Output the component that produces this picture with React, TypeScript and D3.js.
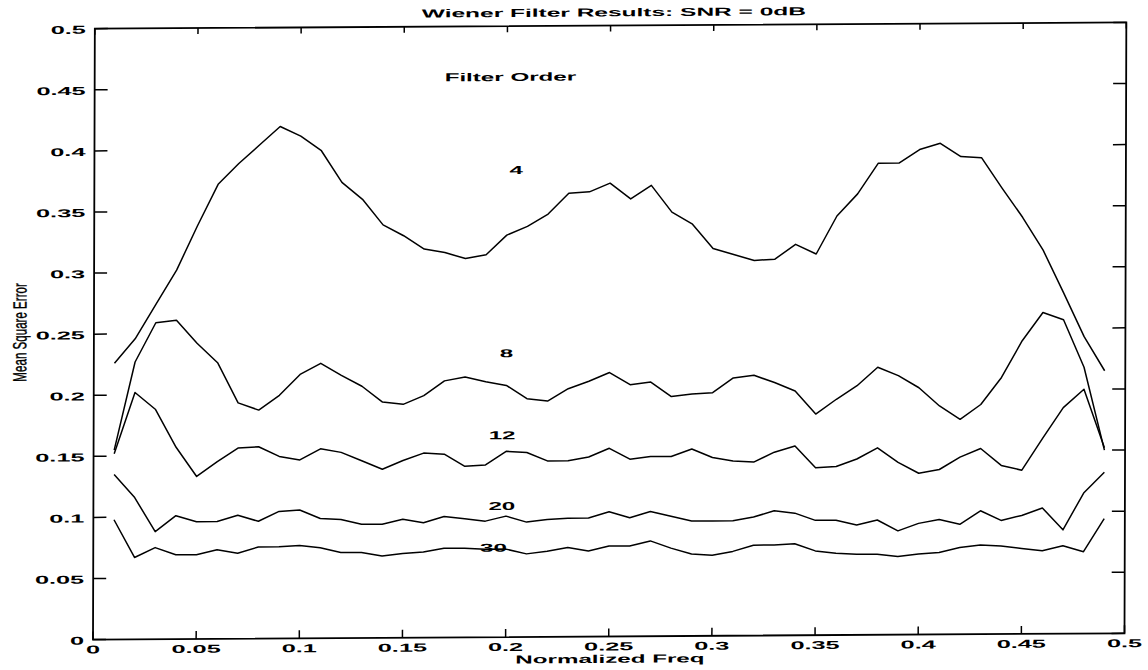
import React from "react";
import * as d3 from "d3";

// normalized frequency grid
const freq = [
  0.01, 0.02, 0.03, 0.04, 0.05, 0.06, 0.07, 0.08, 0.09, 0.1,
  0.11, 0.12, 0.13, 0.14, 0.15, 0.16, 0.17, 0.18, 0.19, 0.2,
  0.21, 0.22, 0.23, 0.24, 0.25, 0.26, 0.27, 0.28, 0.29, 0.3,
  0.31, 0.32, 0.33, 0.34, 0.35, 0.36, 0.37, 0.38, 0.39, 0.4,
  0.41, 0.42, 0.43, 0.44, 0.45, 0.46, 0.47, 0.48, 0.49,
];

const order4 = [
  0.226, 0.246, 0.274, 0.302, 0.338, 0.372, 0.389, 0.404, 0.419, 0.411,
  0.399, 0.373, 0.359, 0.338, 0.329, 0.318, 0.315, 0.31, 0.313, 0.329,
  0.336, 0.346, 0.363, 0.364, 0.371, 0.358, 0.369, 0.347, 0.337, 0.317,
  0.312, 0.307, 0.308, 0.32, 0.312, 0.343, 0.361, 0.386, 0.386, 0.397,
  0.402, 0.391, 0.39, 0.365, 0.341, 0.314, 0.279, 0.243, 0.215,
];
const order8 = [
  0.155, 0.227, 0.259, 0.261, 0.242, 0.226, 0.193, 0.187, 0.199, 0.216,
  0.225, 0.215, 0.206, 0.193, 0.191, 0.198, 0.21, 0.213, 0.209, 0.206,
  0.195, 0.193, 0.203, 0.209, 0.216, 0.206, 0.208, 0.196, 0.198, 0.199,
  0.211, 0.213, 0.207, 0.2, 0.181, 0.193, 0.204, 0.219, 0.212, 0.202,
  0.187, 0.176, 0.188, 0.21, 0.24, 0.263, 0.257, 0.218, 0.15,
];
const order12 = [
  0.152, 0.202, 0.188, 0.157, 0.133, 0.145, 0.156, 0.157, 0.149, 0.146,
  0.155, 0.152, 0.145, 0.138, 0.145, 0.151, 0.15, 0.14, 0.141, 0.152,
  0.151, 0.144, 0.144, 0.147, 0.154, 0.145, 0.147, 0.147, 0.153, 0.146,
  0.143, 0.142, 0.15, 0.155, 0.137, 0.138, 0.144, 0.153, 0.141, 0.132,
  0.135, 0.145, 0.152, 0.138, 0.134, 0.16, 0.185, 0.2, 0.152,
];
const order20 = [
  0.135, 0.116, 0.088, 0.101, 0.096, 0.096, 0.101, 0.096, 0.104, 0.105,
  0.098, 0.097, 0.093, 0.093, 0.097, 0.094, 0.099, 0.097, 0.095, 0.099,
  0.094, 0.096, 0.097, 0.097, 0.102, 0.097, 0.102, 0.098, 0.094, 0.094,
  0.094, 0.097, 0.102, 0.1, 0.094, 0.094, 0.09, 0.094, 0.085, 0.091,
  0.094, 0.09, 0.101, 0.093, 0.097, 0.103, 0.085, 0.115, 0.132,
];
const order30 = [
  0.098, 0.067, 0.075, 0.069, 0.069, 0.073, 0.07, 0.075, 0.075, 0.076,
  0.074, 0.07, 0.07, 0.067, 0.069, 0.07, 0.073, 0.073, 0.072, 0.072,
  0.068, 0.07, 0.073, 0.07, 0.074, 0.074, 0.078, 0.072, 0.067, 0.066,
  0.069, 0.074, 0.074, 0.075, 0.069, 0.067, 0.066, 0.066, 0.064, 0.066,
  0.067, 0.071, 0.073, 0.072, 0.07, 0.068, 0.072, 0.067, 0.094,
];

const series = [order4, order8, order12, order20, order30];

// curve labels: [text, freq, value]
const curveLabels: [string, number, number][] = [
  ["4", 0.2045, 0.379],
  ["8", 0.2, 0.229],
  ["12", 0.198, 0.162],
  ["20", 0.198, 0.104],
  ["30", 0.194, 0.07],
];

const xTicks = [0, 0.05, 0.1, 0.15, 0.2, 0.25, 0.3, 0.35, 0.4, 0.45, 0.5];
const yTicks = [0, 0.05, 0.1, 0.15, 0.2, 0.25, 0.3, 0.35, 0.4, 0.45, 0.5];

const W = 1148;
const H = 670;
const left = 93;
const right = 1124.5;
const top = 28.7;
const bottom = 639.6;

// the scanned page is slightly skewed
const skew = `matrix(1,-0.0061,-0.003,1,${(0.003 * bottom).toFixed(3)},${(0.0061 * left).toFixed(3)})`;

const font = "'Liberation Sans', Arial, Helvetica, sans-serif";
const stretch = 2.1;

const fmt = (d: number) => (d === 0 ? "0" : String(+d.toFixed(2)));

function Wide({ x, y, anchor, size, sx, children }: any) {
  return (
    <g transform={`translate(${x},${y}) scale(${sx},1)`}>
      <text
        textAnchor={anchor}
        fontFamily={font}
        fontWeight="bold"
        fontSize={size}
        fill="#000"
      >
        {children}
      </text>
    </g>
  );
}

export default function App() {
  const x = d3.scaleLinear().domain([0, 0.5]).range([left, right]);
  const y = d3.scaleLinear().domain([0, 0.5]).range([bottom, top]);

  const line = d3
    .line<number>()
    .x((_, i) => x(freq[i]))
    .y((d) => y(d));

  return (
    <svg
      width={W}
      height={H}
      style={{ position: "absolute", left: 0, top: 0, background: "#fff" }}
    >
      <g transform={skew}>
        {/* title */}
        <Wide x={612} y={19.5} anchor="middle" size={11.5} sx={2.13}>
          Wiener Filter Results: SNR = 0dB
        </Wide>

        {/* curves */}
        {series.map((s, i) => (
          <path
            key={i}
            d={line(s) || ""}
            fill="none"
            stroke="#000"
            strokeWidth={1.5}
            strokeLinejoin="round"
          />
        ))}

        {/* box */}
        <rect
          x={left}
          y={top}
          width={right - left}
          height={bottom - top}
          fill="none"
          stroke="#000"
          strokeWidth={1.8}
        />

        {/* x ticks */}
        {xTicks.map((t) => (
          <g key={"x" + t}>
            <line x1={x(t)} x2={x(t)} y1={bottom} y2={bottom - 8} stroke="#000" strokeWidth={1.5} />
            <line x1={x(t)} x2={x(t)} y1={top} y2={top + 6} stroke="#000" strokeWidth={1.5} />
            <Wide x={x(t)} y={653.5} anchor="middle" size={11.5} sx={2.2}>
              {fmt(t)}
            </Wide>
          </g>
        ))}

        {/* y ticks */}
        {yTicks.map((t) => (
          <g key={"y" + t}>
            <line x1={left} x2={left + 13} y1={y(t)} y2={y(t)} stroke="#000" strokeWidth={1.5} />
            <line x1={right} x2={right - 13} y1={y(t)} y2={y(t)} stroke="#000" strokeWidth={1.5} />
            <Wide x={84} y={y(t) + 5} anchor="end" size={11.5} sx={2.2}>
              {fmt(t)}
            </Wide>
          </g>
        ))}

        {/* annotations */}
        <Wide x={443} y={83.5} anchor="start" size={11.5} sx={stretch}>
          Filter Order
        </Wide>
        {curveLabels.map(([txt, f, v]) => (
          <Wide key={txt} x={x(f)} y={y(v)} anchor="middle" size={11.5} sx={stretch}>
            {txt}
          </Wide>
        ))}

        {/* axis labels */}
        <Wide x={610} y={666} anchor="middle" size={11.5} sx={stretch}>
          Normalized Freq
        </Wide>
        <g transform={`translate(25.5,332) rotate(-90) scale(0.61,1)`}>
          <text
            textAnchor="middle"
            fontFamily={font}
            fontSize={19}
            fill="#000"
            stroke="#000"
            strokeWidth={0.4}
          >
            Mean Square Error
          </text>
        </g>
      </g>
    </svg>
  );
}
